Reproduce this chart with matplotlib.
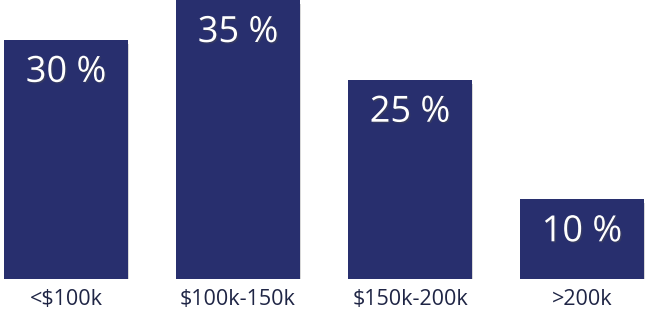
import matplotlib
matplotlib.use("Agg")
import matplotlib.pyplot as plt
import matplotlib.patheffects as pe

categories = ["<$100k", "$100k-150k", "$150k-200k", ">200k"]
values = [30, 35, 25, 10]
value_labels = ["30 %", "35 %", "25 %", "10 %"]

plt.rcParams['font.family'] = ['Open Sans', 'DejaVu Sans']

fig = plt.figure(figsize=(6.48, 3.18), dpi=100)
ax = fig.add_axes([0, 39/318, 1, 279/318])
x = list(range(len(categories)))
bars = ax.bar(x, values, width=124/172, color="#282F6E")
for b in bars:
    b.set_path_effects([pe.SimplePatchShadow(offset=(1, -3), alpha=0.25, shadow_rgbFace="#666666"), pe.Normal()])
ax.set_xlim(-66/172, (648-66)/172)
ax.set_ylim(0, 35)
for xi, v, lab in zip(x, values, value_labels):
    ax.annotate(lab, (xi, v), xytext=(0, -33), textcoords="offset pixels",
                ha="center", va="center", color="white", fontsize=26,
                path_effects=[pe.withSimplePatchShadow(offset=(1, -1), alpha=0.4)])
ax.set_xticks(x)
ax.set_xticklabels(categories, fontsize=15.5, color="#1F2545")
ax.tick_params(axis="x", length=0, pad=7)
ax.set_yticks([])
for s in ax.spines.values():
    s.set_visible(False)
fig.savefig("out.png", dpi=100)
